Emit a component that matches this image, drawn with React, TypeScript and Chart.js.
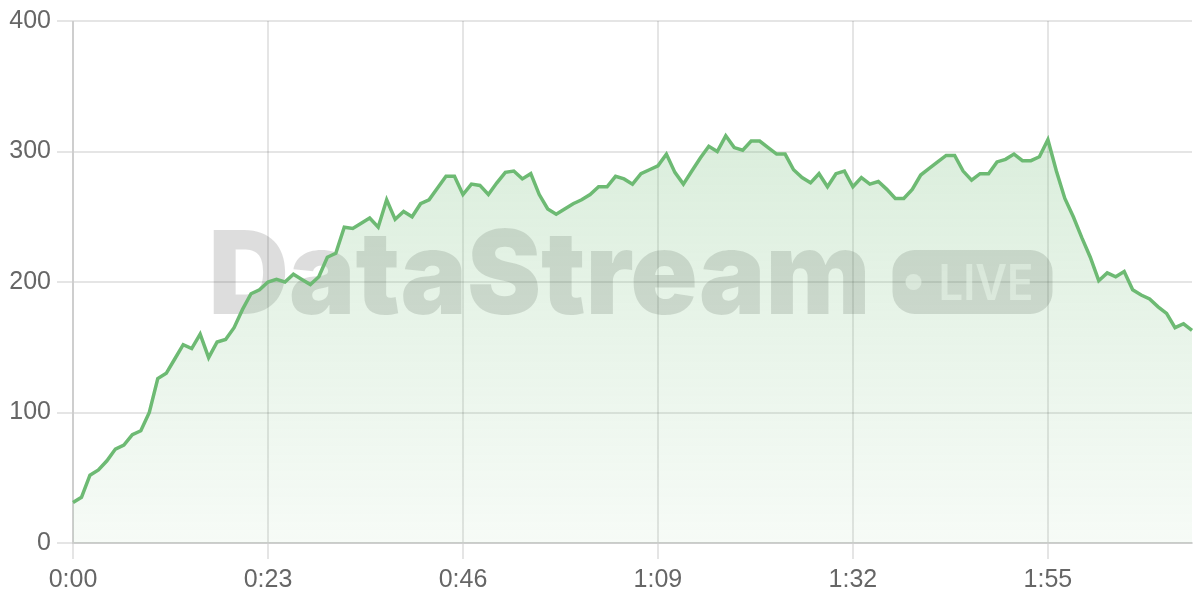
import React, { useEffect, useRef } from 'react';
import { Chart, registerables } from 'chart.js';

Chart.register(...registerables);

// Values sampled once per second (0:00 .. 2:12)
const VALUES: number[] = [
  31, 35, 52, 56, 63, 72, 75, 83, 86, 100,
  126, 130, 141, 152, 149, 160, 142, 154, 156, 165,
  179, 191, 194, 200, 202, 200, 206, 202, 198, 204,
  219, 222, 242, 241, 245, 249, 242, 263, 248, 254,
  250, 260, 263, 272, 281, 281, 267, 275, 274, 267,
  276, 284, 285, 279, 283, 267, 256, 252, 256, 260,
  263, 267, 273, 273, 281, 279, 275, 283, 286, 289,
  298, 284, 275, 285, 295, 304, 300, 312, 303, 301,
  308, 308, 303, 298, 298, 286, 280, 276, 283, 273,
  283, 285, 273, 280, 275, 277, 271, 264, 264, 271,
  282, 287, 292, 297, 297, 285, 278, 283, 283, 292,
  294, 298, 293, 293, 296, 309, 285, 264, 250, 234,
  219, 201, 207, 204, 208, 194, 190, 187, 181, 176,
  165, 168, 163,
];

const TICK_STEP_SECONDS = 23;
const Y_MIN = 0;
const Y_MAX = 400;
const Y_STEP = 100;

const WATERMARK_TITLE = 'DataStream';
const WATERMARK_BADGE = 'LIVE';

const LINE_COLOR = 'rgb(109, 186, 115)';
const GRID_COLOR = 'rgba(0, 0, 0, 0.1)';
const TICK_COLOR = '#666';
const TICK_FONT = { family: "'Liberation Sans', Arial, sans-serif", size: 25 };

const formatTime = (s: number) => `${Math.floor(s / 60)}:${String(s % 60).padStart(2, '0')}`;
const LABELS: string[] = VALUES.map((_, i) => formatTime(i));

function fitText(ctx: CanvasRenderingContext2D, text: string, x: number, y: number, width: number) {
  const w = ctx.measureText(text).width;
  ctx.save();
  ctx.translate(x, y);
  ctx.scale(width / w, 1);
  ctx.fillText(text, 0, 0);
  ctx.restore();
}

const watermarkPlugin = {
  id: 'watermark',
  beforeDatasetsDraw(chart: any) {
    const { ctx, chartArea } = chart;
    const cx = (chartArea.left + chartArea.right) / 2;
    const baseY = chartArea.top + 293;
    ctx.save();
    ctx.fillStyle = 'rgba(0, 0, 0, 0.135)';
    ctx.textBaseline = 'alphabetic';
    ctx.textAlign = 'left';
    ctx.font = "900 116px Inter, 'Open Sans', sans-serif";
    fitText(ctx, WATERMARK_TITLE, cx - 424, baseY, 662);
    // badge
    const bx = cx + 260;
    const by = baseY - 64;
    const bw = 160;
    const bh = 64;
    const r = 22;
    ctx.beginPath();
    ctx.moveTo(bx + r, by);
    ctx.arcTo(bx + bw, by, bx + bw, by + bh, r);
    ctx.arcTo(bx + bw, by + bh, bx, by + bh, r);
    ctx.arcTo(bx, by + bh, bx, by, r);
    ctx.arcTo(bx, by, bx + bw, by, r);
    ctx.closePath();
    ctx.fill();
    ctx.fillStyle = 'rgba(255, 255, 255, 0.6)';
    ctx.beginPath();
    ctx.arc(bx + 21, by + 32, 8, 0, Math.PI * 2);
    ctx.fill();
    ctx.font = "600 49px Inter, 'Open Sans', sans-serif";
    fitText(ctx, WATERMARK_BADGE, bx + 46, baseY - 14, 95);
    ctx.restore();
  },
};

export default function App() {
  const canvasRef = useRef<HTMLCanvasElement | null>(null);

  useEffect(() => {
    if (!canvasRef.current) return;
    const chart = new Chart(canvasRef.current, {
      type: 'line',
      data: {
        labels: LABELS,
        datasets: [
          {
            data: VALUES,
            borderColor: LINE_COLOR,
            borderWidth: 3.5,
            pointRadius: 0,
            pointHoverRadius: 0,
            tension: 0,
            fill: 'origin',
            backgroundColor: (context: any) => {
              const { chart: c } = context;
              const area = c.chartArea;
              if (!area) return 'rgba(109,186,115,0.15)';
              const g = c.ctx.createLinearGradient(0, area.top, 0, area.bottom);
              g.addColorStop(0, 'rgba(109, 186, 115, 0.30)');
              g.addColorStop(1, 'rgba(109, 186, 115, 0.06)');
              return g;
            },
          },
        ],
      },
      options: {
        animation: false,
        responsive: true,
        maintainAspectRatio: false,
        layout: { padding: { top: 5, right: 8, left: 0, bottom: 0 } },
        plugins: {
          legend: { display: false },
          tooltip: { enabled: false },
        },
        scales: {
          x: {
            grid: { color: GRID_COLOR, lineWidth: 2, tickLength: 16 },
            border: { color: GRID_COLOR, width: 2 },
            ticks: {
              autoSkip: false,
              maxRotation: 0,
              color: TICK_COLOR,
              font: TICK_FONT,
              padding: 6,
              callback: (_v: any, i: number) => (i % TICK_STEP_SECONDS === 0 ? LABELS[i] : null),
            },
            afterFit: (scale: any) => {
              scale.height = 57;
            },
          },
          y: {
            min: Y_MIN,
            max: Y_MAX,
            grid: { color: GRID_COLOR, lineWidth: 2, tickLength: 16 },
            border: { color: GRID_COLOR, width: 2 },
            ticks: {
              stepSize: Y_STEP,
              color: TICK_COLOR,
              font: TICK_FONT,
              padding: 6,
            },
            afterFit: (scale: any) => {
              scale.width = 73;
            },
          },
        },
      },
      plugins: [watermarkPlugin],
    });
    return () => chart.destroy();
  }, []);

  return (
    <div style={{ position: 'absolute', left: 0, top: 0, width: 1200, height: 600 }}>
      <canvas ref={canvasRef} />
    </div>
  );
}
